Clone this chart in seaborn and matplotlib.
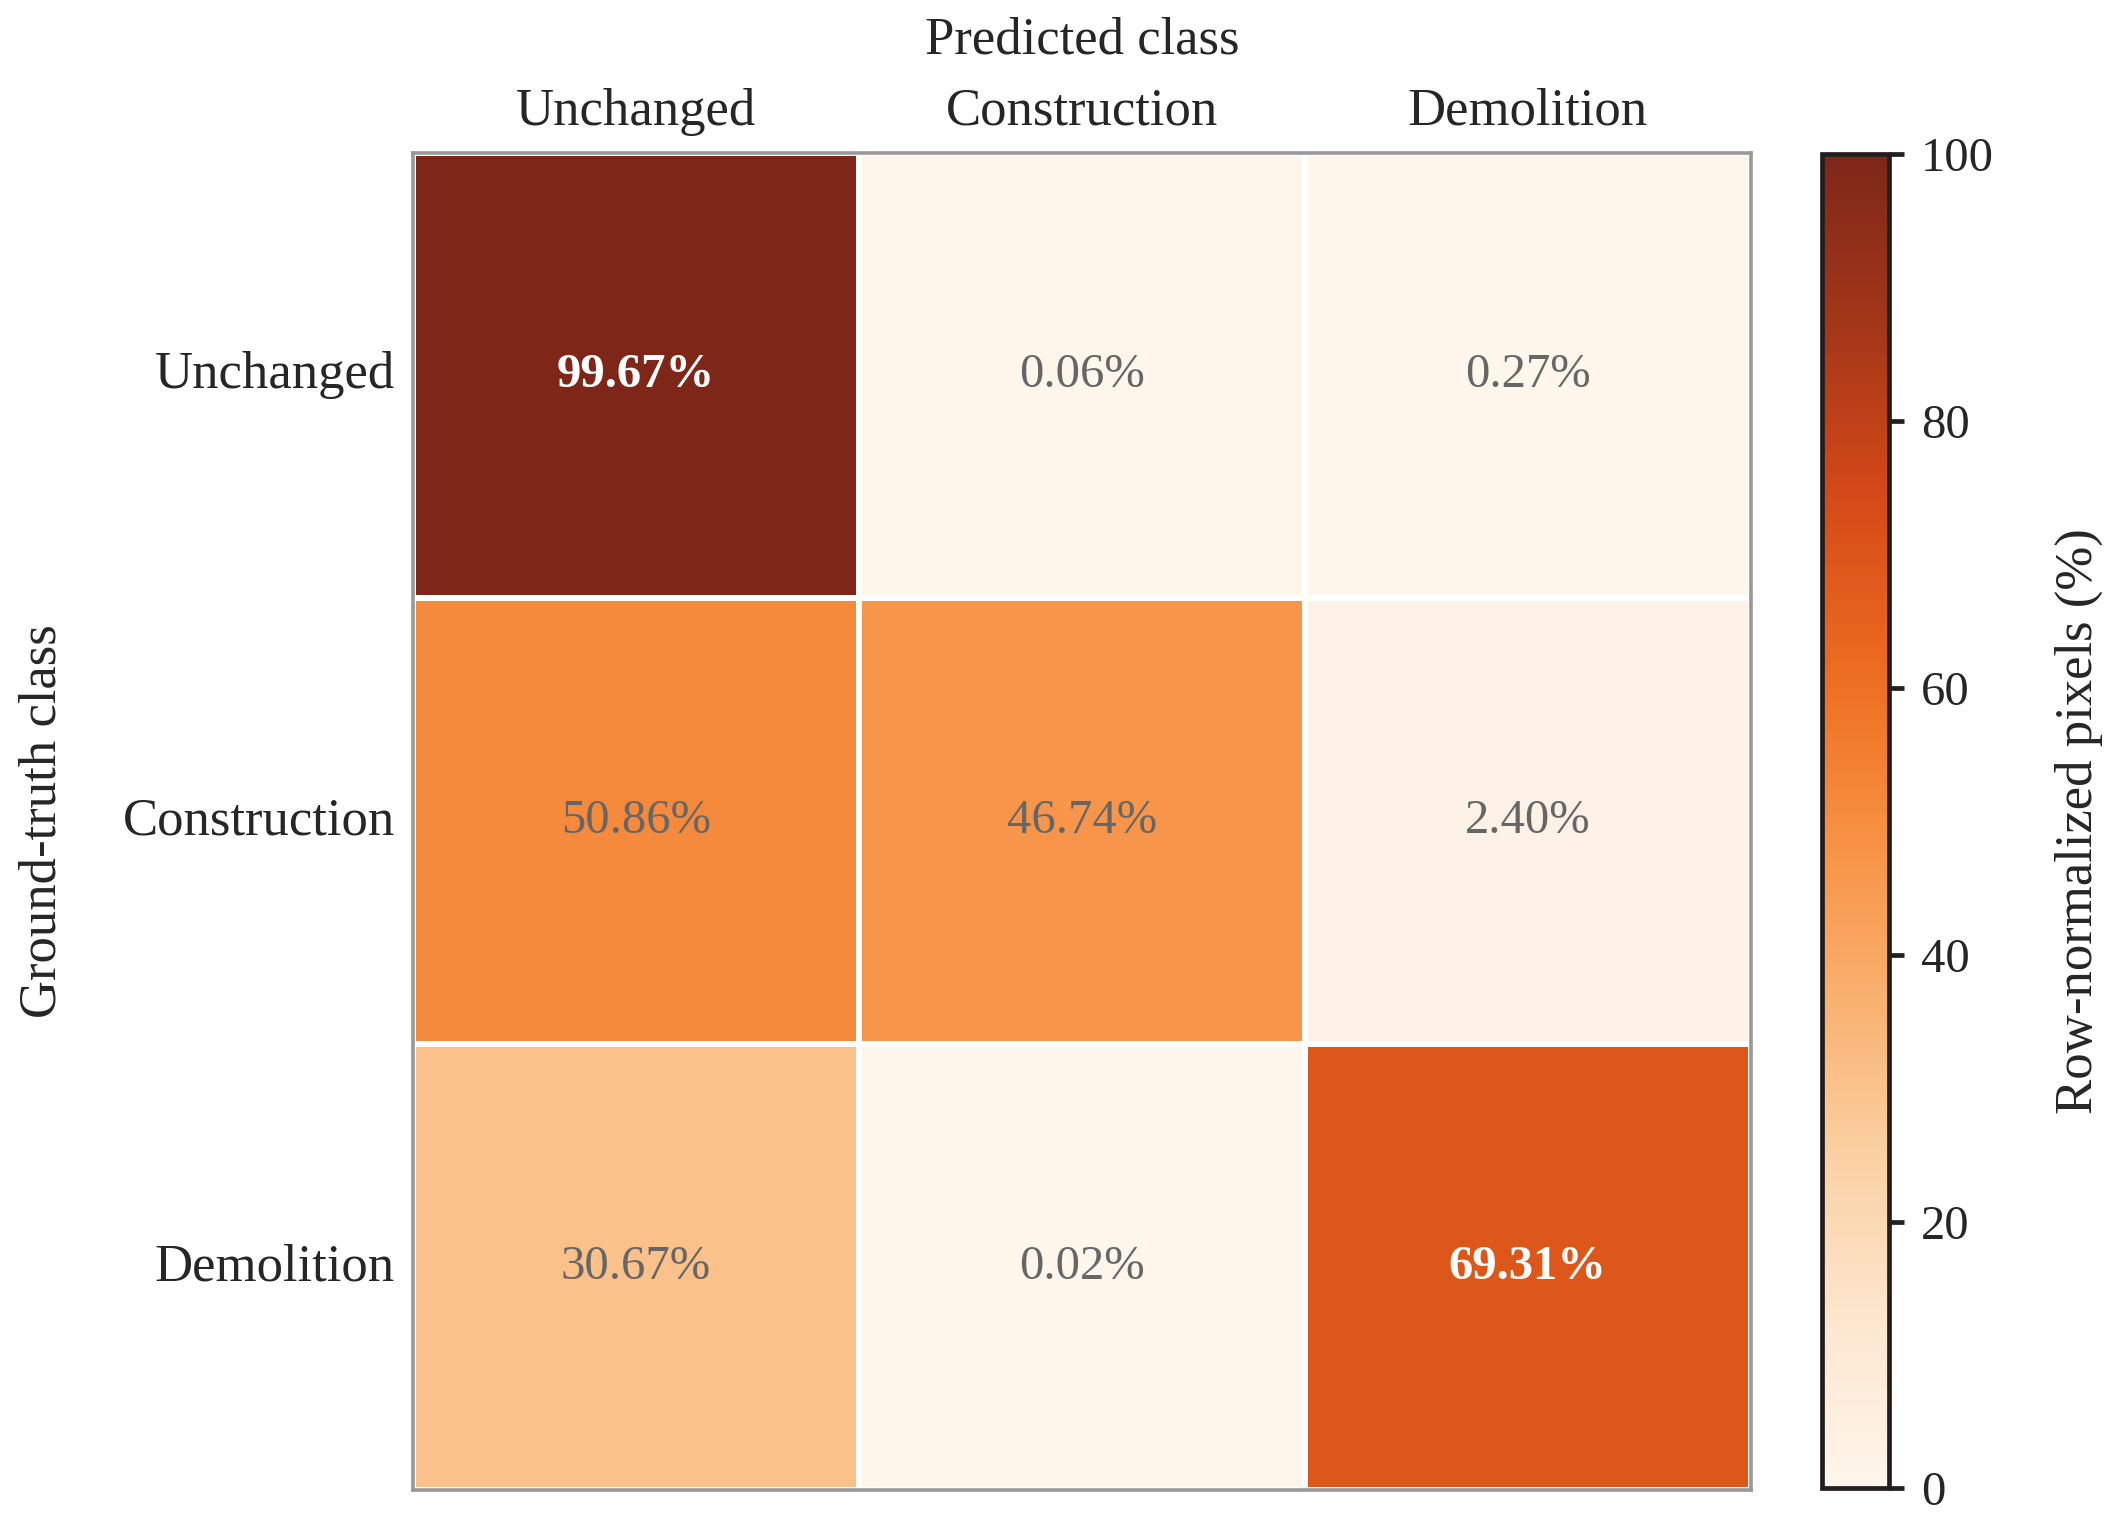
import numpy as np
import pandas as pd
import matplotlib
matplotlib.use("Agg")
import matplotlib.pyplot as plt
from matplotlib.colors import ListedColormap
import seaborn as sns

# Данные матрицы ошибок (нормировка по строкам, %)
classes = ["Unchanged", "Construction", "Demolition"]
row_unchanged = [99.67, 0.06, 0.27]
row_construction = [50.86, 46.74, 2.40]
row_demolition = [30.67, 0.02, 69.31]

cm = pd.DataFrame([row_unchanged, row_construction, row_demolition],
                  index=classes, columns=classes)
labels = cm.map(lambda v: f"{v:.2f}%")

# Oranges, чуть приглушённая (как в печатной версии)
base = plt.get_cmap("Oranges")(np.linspace(0, 1, 256))
r, g, b = base[:, 0].copy(), base[:, 1].copy(), base[:, 2].copy()
base[:, 0] = r - (14 / 255) * (1 - g) * r ** 3
base[:, 2] = b + (24 / 255) * np.exp(-b * 255 / 30)
cmap = ListedColormap(np.clip(base, 0, 1))

sns.set_style("white")
plt.rcParams["font.family"] = ["Liberation Serif", "DejaVu Serif"]

fig = plt.figure(figsize=(10.585, 7.625), dpi=200)
ax = fig.add_axes([0.195, 0.023, 0.632, 0.877])
cax = fig.add_axes([0.8605, 0.024, 0.0318, 0.875])

sns.heatmap(cm, ax=ax, cbar_ax=cax, cmap=cmap, vmin=0, vmax=100,
            annot=labels, fmt="", linewidths=2, linecolor="white",
            annot_kws={"fontsize": 17.5, "color": "#666666"})

# Подсветка больших значений
for txt, v in zip(ax.texts, cm.values.ravel()):
    if v > 60:
        txt.set_color("white")
        txt.set_fontweight("bold")

ax.xaxis.tick_top()
ax.xaxis.set_label_position("top")
ax.set_xlabel("Predicted class", fontsize=19, labelpad=12.5)
ax.set_ylabel("Ground-truth class", fontsize=19, labelpad=20)
ax.tick_params(axis="both", length=0, labelsize=19)
ax.tick_params(axis="x", pad=6)
ax.tick_params(axis="y", pad=6.5)
plt.setp(ax.get_yticklabels(), rotation=0, va="center")
plt.setp(ax.get_xticklabels(), rotation=0)

for sp in ax.spines.values():
    sp.set_visible(True)
    sp.set_color("#999999")
    sp.set_linewidth(1.3)

cbar = ax.collections[0].colorbar
cbar.set_ticks([0, 20, 40, 60, 80, 100])
cbar.outline.set_linewidth(1.7)
cbar.outline.set_edgecolor("#231f20")
cax.tick_params(labelsize=17.5, length=5.5, width=1.7, color="#231f20", pad=6)
cbar.set_label("Row-normalized pixels (%)", fontsize=19, labelpad=22)

fig.savefig("out.png", dpi=200)
